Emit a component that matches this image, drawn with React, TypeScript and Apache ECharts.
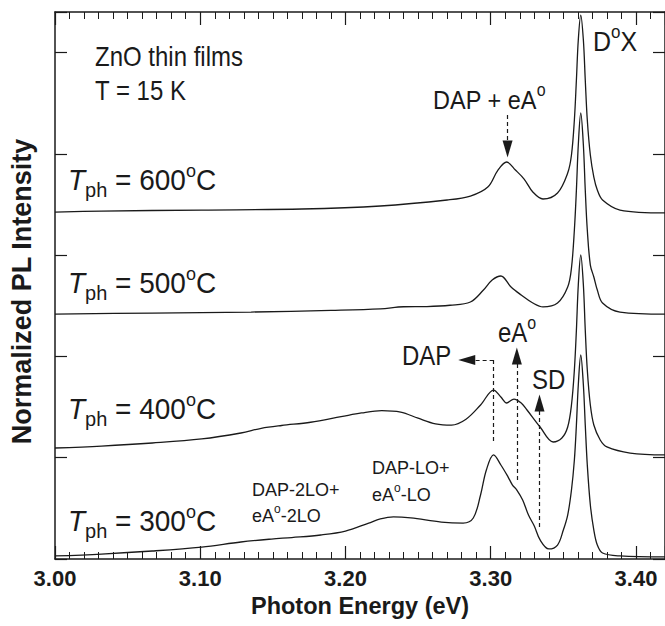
import React, { useEffect, useRef } from "react";
import * as echarts from "echarts";

// ---- data (photon energy in eV, normalized PL intensity with vertical offsets) ----
const xTickValues = [3.0, 3.1, 3.2, 3.3, 3.4];

const energy600 = [3.000, 3.032, 3.101, 3.170, 3.224, 3.270, 3.286, 3.298, 3.305, 3.311, 3.317, 3.323, 3.329, 3.336, 3.346, 3.353, 3.3556, 3.3576, 3.3590, 3.3603, 3.362, 3.3638, 3.3651, 3.3665, 3.3686, 3.371, 3.3734, 3.377, 3.389, 3.420];
const pl600 = [3.425, 3.435, 3.445, 3.455, 3.485, 3.544, 3.583, 3.672, 3.840, 3.919, 3.840, 3.751, 3.623, 3.554, 3.613, 3.810, 3.988, 4.334, 4.729, 5.123, 5.370, 5.123, 4.729, 4.334, 3.988, 3.771, 3.643, 3.544, 3.445, 3.416];

const energy500 = [3.000, 3.067, 3.135, 3.190, 3.224, 3.240, 3.256, 3.272, 3.286, 3.295, 3.301, 3.307, 3.314, 3.321, 3.329, 3.336, 3.346, 3.353, 3.3556, 3.3576, 3.3590, 3.3603, 3.362, 3.3638, 3.3651, 3.3665, 3.3686, 3.371, 3.3734, 3.377, 3.389, 3.420];
const pl500 = [2.418, 2.428, 2.438, 2.455, 2.470, 2.490, 2.492, 2.505, 2.537, 2.655, 2.754, 2.794, 2.685, 2.606, 2.527, 2.488, 2.527, 2.685, 2.873, 3.248, 3.643, 4.087, 4.403, 4.087, 3.643, 3.248, 2.902, 2.784, 2.655, 2.527, 2.438, 2.418];

const energy400 = [3.000, 3.032, 3.067, 3.101, 3.128, 3.142, 3.156, 3.176, 3.197, 3.211, 3.225, 3.238, 3.250, 3.262, 3.273, 3.283, 3.293, 3.302, 3.307, 3.311, 3.316, 3.321, 3.325, 3.334, 3.343, 3.349, 3.353, 3.3556, 3.3576, 3.3590, 3.3603, 3.362, 3.3638, 3.3651, 3.3665, 3.3686, 3.371, 3.3754, 3.380, 3.396, 3.420];
const pl400 = [1.096, 1.115, 1.145, 1.185, 1.244, 1.290, 1.318, 1.350, 1.405, 1.442, 1.465, 1.450, 1.390, 1.335, 1.322, 1.380, 1.520, 1.668, 1.599, 1.540, 1.579, 1.540, 1.471, 1.303, 1.155, 1.194, 1.303, 1.520, 1.866, 2.261, 2.705, 3.001, 2.705, 2.261, 1.866, 1.520, 1.323, 1.175, 1.106, 1.046, 1.027];

const energy300 = [3.000, 3.032, 3.067, 3.101, 3.128, 3.149, 3.163, 3.183, 3.200, 3.216, 3.224, 3.233, 3.245, 3.266, 3.281, 3.288, 3.293, 3.297, 3.302, 3.307, 3.312, 3.315, 3.318, 3.322, 3.326, 3.330, 3.334, 3.340, 3.346, 3.350, 3.353, 3.3556, 3.3576, 3.3590, 3.3603, 3.362, 3.3638, 3.3651, 3.3665, 3.3686, 3.371, 3.3734, 3.377, 3.389, 3.420];
const pl300 = [0.030, 0.049, 0.079, 0.118, 0.168, 0.197, 0.212, 0.237, 0.276, 0.355, 0.395, 0.415, 0.405, 0.365, 0.355, 0.405, 0.632, 0.879, 1.027, 0.928, 0.809, 0.730, 0.681, 0.582, 0.434, 0.326, 0.188, 0.099, 0.138, 0.286, 0.434, 0.681, 0.977, 1.323, 1.718, 2.014, 1.718, 1.323, 0.928, 0.533, 0.286, 0.138, 0.059, 0.030, 0.020];

// annotation arrows: [start, end] (end = centre of arrow head), in data units
const arrowDapEa = [[3.3116, 4.383], [3.3116, 4.047]];
const arrowDap = [[3.302, 1.964], [3.2835, 1.964]];
const lineDap = [[3.302, 1.964], [3.302, 1.155]];
const arrowEa = [[3.318, 0.780], [3.318, 2.004]];
const arrowSd = [[3.3336, 0.316], [3.3336, 1.540]];

const INK = "#1a1a1a";
const FONT = '"Liberation Sans", Arial, Helvetica, sans-serif';

const zip = (xs: number[], ys: number[]) => xs.map((x, i) => [x, ys[i]]);

const makeRich = (size: number, lh: number) => ({
  m: { fontSize: size, fontFamily: FONT, lineHeight: lh, fill: INK },
  i: { fontSize: size, fontFamily: FONT, lineHeight: lh, fontStyle: "italic", fill: INK },
  s: { fontSize: Math.round(size * 0.66), fontFamily: FONT, verticalAlign: "top", fill: INK },
  b: { fontSize: Math.round(size * 0.72), fontFamily: FONT, verticalAlign: "bottom", fill: INK },
});

const txt = (x: number, y: number, text: string, size: number, lh: number, sy = 1.12) => ({
  type: "text",
  x,
  y,
  scaleY: sy,
  silent: true,
  style: { text, rich: makeRich(size, lh), align: "left", verticalAlign: "middle", fill: INK },
});

const arrow = (pts: number[][], head: boolean) => [
  { coord: pts[0], symbol: "none" },
  { coord: pts[1], symbol: head ? "triangle" : "none", symbolSize: [10, 17] },
];

const curveStyle = { color: INK, width: 1.3 };

const mkSeries = (name: string, e: number[], v: number[], extra: any = {}) => ({
  name,
  type: "line",
  data: zip(e, v),
  showSymbol: false,
  smooth: 0.35,
  lineStyle: curveStyle,
  itemStyle: { color: INK },
  silent: true,
  z: 3,
  ...extra,
});

const axisCommon = {
  min: 3.0,
  max: 3.42,
  interval: 0.1,
  type: "value",
  axisLine: { show: true, onZero: false, lineStyle: { color: INK, width: 1.5 } },
  axisTick: { show: true, inside: true, length: 13, lineStyle: { color: INK, width: 1.2 } },
  minorTick: { show: true, splitNumber: 10, length: 7, lineStyle: { color: INK, width: 1 } },
  splitLine: { show: false },
  minorSplitLine: { show: false },
};

const yCommon = {
  type: "value",
  min: 0,
  max: 5.4,
  interval: 1,
  axisLine: { show: true, onZero: false, lineStyle: { color: INK, width: 1.5 } },
  axisTick: { show: true, inside: true, length: 12, lineStyle: { color: INK, width: 1.2 } },
  axisLabel: { show: false },
  splitLine: { show: false },
};

const option: any = {
  animation: false,
  backgroundColor: "#ffffff",
  grid: { left: 53, right: 0, top: 12, bottom: 67, containLabel: false },
  xAxis: [
    {
      ...axisCommon,
      position: "bottom",
      name: "Photon Energy (eV)",
      nameLocation: "middle",
      nameGap: 35,
      nameTextStyle: { fontFamily: FONT, fontWeight: "bold", fontSize: 23.5, color: INK },
      axisLabel: {
        show: true,
        margin: 8,
        showMaxLabel: false,
        fontFamily: FONT,
        fontWeight: "bold",
        fontSize: 22,
        color: INK,
        formatter: (v: number) => (xTickValues.some((t) => Math.abs(t - v) < 1e-6) ? v.toFixed(2) : ""),
      },
    },
    { ...axisCommon, position: "top", axisLabel: { show: false } },
  ],
  yAxis: [
    {
      ...yCommon,
      position: "left",
      name: "Normalized PL Intensity",
      nameLocation: "middle",
      nameGap: 20,
      nameTextStyle: { fontFamily: FONT, fontWeight: "bold", fontSize: 27, color: INK, padding: [0, 12, 0, 0] },
    },
    { ...yCommon, position: "right" },
  ],
  series: [
    mkSeries("600", energy600, pl600),
    mkSeries("500", energy500, pl500),
    mkSeries("400", energy400, pl400, {
      markLine: {
        silent: true,
        animation: false,
        label: { show: false },
        emphasis: { disabled: true },
        lineStyle: { color: INK, width: 1.2, type: [4, 3] },
        itemStyle: { color: INK },
        data: [
          arrow(arrowDapEa, true),
          arrow(arrowDap, true),
          arrow(lineDap, false),
          arrow(arrowEa, true),
          arrow(arrowSd, true),
        ],
      },
    }),
    mkSeries("300", energy300, pl300),
  ],
  graphic: [
    txt(95, 57, "{m|ZnO thin films}", 24, 34),
    txt(95, 91, "{m|T = 15 K}", 24, 34),
    txt(593, 42, "{m|D}{s|o}{m|X}", 25, 35),
    txt(433, 100, "{m|DAP + eA}{s|o}", 23.5, 33),
    txt(68, 180, "{i|T}{b|ph}{m| = 600}{s|o}{m|C}", 28, 37, 1.05),
    txt(68, 283, "{i|T}{b|ph}{m| = 500}{s|o}{m|C}", 28, 37, 1.05),
    txt(68, 409, "{i|T}{b|ph}{m| = 400}{s|o}{m|C}", 28, 37, 1.05),
    txt(68, 521, "{i|T}{b|ph}{m| = 300}{s|o}{m|C}", 28, 37, 1.05),
    txt(402, 356, "{m|DAP}", 24, 34),
    txt(498, 333, "{m|eA}{s|o}", 24, 34),
    txt(532, 380, "{m|SD}", 24, 34),
    txt(252, 490, "{m|DAP-2LO+}", 18, 26, 1),
    txt(252, 516, "{m|eA}{s|o}{m|-2LO}", 18, 26, 1),
    txt(372, 468, "{m|DAP-LO+}", 18, 26, 1),
    txt(372, 495, "{m|eA}{s|o}{m|-LO}", 18, 26, 1),
  ],
};

export default function App() {
  const ref = useRef<HTMLDivElement>(null);
  useEffect(() => {
    const chart = echarts.init(ref.current as HTMLDivElement, null, { renderer: "svg" });
    chart.setOption(option);
    return () => chart.dispose();
  }, []);
  return (
    <div
      ref={ref}
      style={{ position: "absolute", left: 0, top: 0, width: 665, height: 626, background: "#fff" }}
    />
  );
}
